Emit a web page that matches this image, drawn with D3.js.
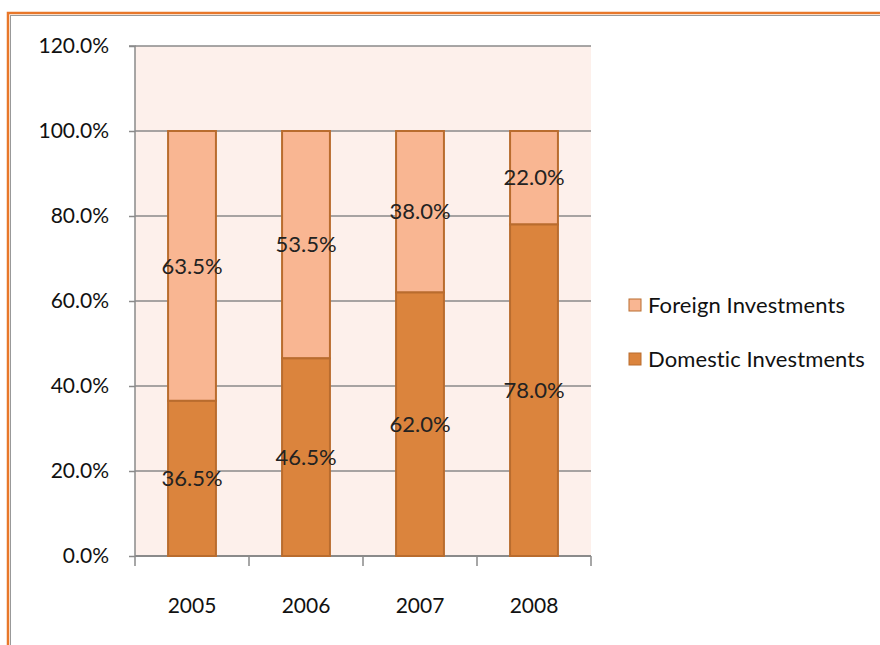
<!DOCTYPE html>
<html><head><meta charset="utf-8">
<script src="https://cdn.jsdelivr.net/npm/d3@7"></script>
<style>body{margin:0;background:#fff}svg{display:block}text{font-variant-ligatures:none;font-feature-settings:"liga" 0,"dlig" 0,"clig" 0,"hlig" 0}</style>
</head><body>
<svg id="c" width="880" height="645"></svg>
<script>
const years = ["2005","2006","2007","2008"];
const domestic = [36.5, 46.5, 62.0, 78.0];
const foreign = [63.5, 53.5, 38.0, 22.0];
const yTicks = [0,20,40,60,80,100,120];
const seriesNames = ["Foreign Investments","Domestic Investments"];

const font = "Lato,'Open Sans',sans-serif";
const svg = d3.select("#c");
const colF = "#F9B692", colD = "#DB843D", edge = "#B96C2E";

// frame
svg.append("rect").attr("x",8).attr("y",13).attr("width",900).attr("height",700)
  .attr("fill","none").attr("stroke","#E8772A").attr("stroke-width",2.5);
svg.append("rect").attr("x",10.5).attr("y",15.5).attr("width",900).attr("height",700)
  .attr("fill","none").attr("stroke","#999").attr("stroke-width",1);

const L=135, R=591, T=46, B=556;
const x = d3.scaleBand().domain(years).range([L,R]).paddingInner(0.58).paddingOuter(0.29);
const y = d3.scaleLinear().domain([0,120]).range([B,T]);

svg.append("rect").attr("x",L).attr("y",T).attr("width",R-L).attr("height",B-T).attr("fill","#FDF0EB");

// gridlines
svg.append("g").selectAll("line").data(yTicks.filter(d=>d>0)).join("line")
  .attr("x1",L).attr("x2",R).attr("y1",d=>y(d)).attr("y2",d=>y(d))
  .attr("stroke","#8a8a8a").attr("stroke-width",1.5);

// y axis
const ya = svg.append("g").attr("transform",`translate(${L},0)`)
  .call(d3.axisLeft(y).tickValues(yTicks).tickSize(6).tickPadding(20).tickFormat(d=>d.toFixed(1)+"%"));
ya.select(".domain").attr("stroke","#8a8a8a").attr("stroke-width",1.5).attr("d",`M-6,${T}H0V${B}`);
ya.selectAll(".tick line").attr("stroke","#8a8a8a").attr("stroke-width",1.5);
ya.selectAll("text").attr("font-family",font).attr("font-size",21).attr("fill","#111");

// x axis
const xEdges = years.map((d,i)=>L + i*(R-L)/years.length).concat([R]);
svg.append("line").attr("x1",L).attr("x2",R).attr("y1",B).attr("y2",B).attr("stroke","#8a8a8a").attr("stroke-width",2);
svg.append("g").selectAll("line").data(xEdges).join("line")
  .attr("x1",d=>d).attr("x2",d=>d).attr("y1",B).attr("y2",B+10).attr("stroke","#8a8a8a").attr("stroke-width",1.5);
svg.append("g").selectAll("text").data(years).join("text")
  .attr("x",d=>x(d)+x.bandwidth()/2).attr("y",613).attr("text-anchor","middle")
  .attr("font-family",font).attr("font-size",21).attr("fill","#111").text(d=>d);

// bars
const g = svg.append("g");
years.forEach((yr,i)=>{
  const d0 = domestic[i], f0 = foreign[i];
  g.append("rect").attr("x",x(yr)).attr("width",x.bandwidth())
    .attr("y",y(d0+f0)).attr("height",y(d0)-y(d0+f0))
    .attr("fill",colF).attr("stroke",edge).attr("stroke-width",2);
  g.append("rect").attr("x",x(yr)).attr("width",x.bandwidth())
    .attr("y",y(d0)).attr("height",y(0)-y(d0))
    .attr("fill",colD).attr("stroke",edge).attr("stroke-width",2);
});
// labels
years.forEach((yr,i)=>{
  const d0 = domestic[i], f0 = foreign[i];
  const cx = x(yr)+x.bandwidth()/2;
  g.append("text").attr("x",cx).attr("y",y(d0+f0/2)).attr("dy","0.35em").attr("text-anchor","middle")
    .attr("font-family",font).attr("font-size",22).attr("fill","#222").text(f0.toFixed(1)+"%");
  g.append("text").attr("x",cx).attr("y",y(d0/2)).attr("dy","0.35em").attr("text-anchor","middle")
    .attr("font-family",font).attr("font-size",22).attr("fill","#222").text(d0.toFixed(1)+"%");
});

// legend
const leg = svg.append("g");
const lc = [colF,colD], ly=[305,359];
seriesNames.forEach((n,i)=>{
  leg.append("rect").attr("x",629).attr("y",ly[i]-6).attr("width",12).attr("height",12)
    .attr("fill",lc[i]).attr("stroke",edge).attr("stroke-width",1);
  leg.append("text").attr("x",648).attr("y",ly[i]).attr("dy","0.35em")
    .attr("font-family",font).attr("font-size",22).attr("letter-spacing","0.1px")
    .style("font-variant-ligatures","none").style("font-feature-settings","\"liga\" 0, \"dlig\" 0")
    .attr("fill","#111").text(n);
});
</script>
</body></html>
